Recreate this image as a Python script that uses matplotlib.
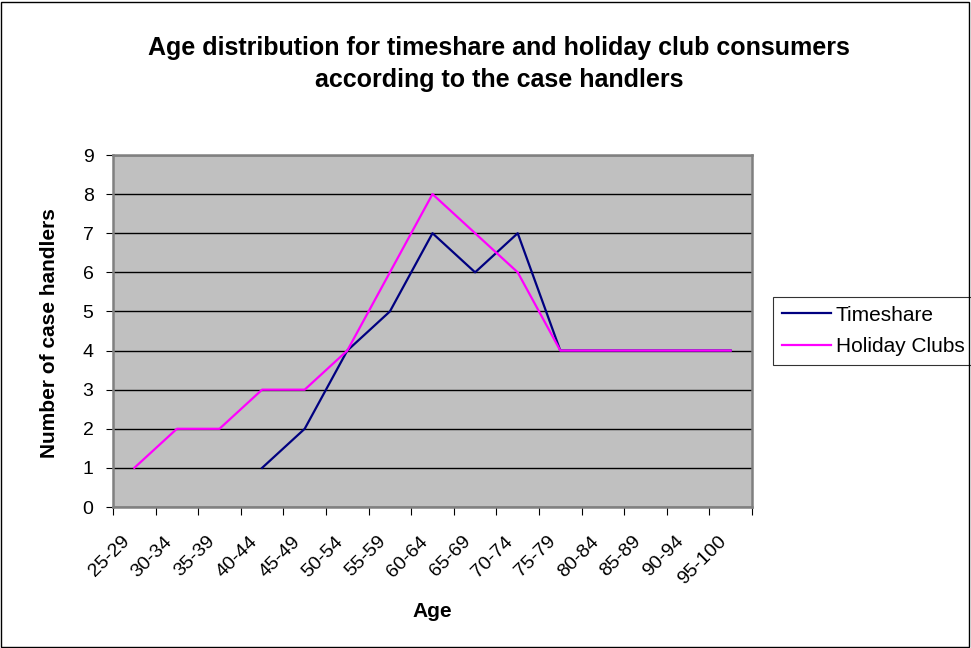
import numpy as np
import matplotlib.pyplot as plt
from matplotlib.patches import Rectangle
from matplotlib.transforms import ScaledTranslation

plt.rcParams['font.family'] = ['Liberation Sans', 'DejaVu Sans']

age_groups = ['25-29', '30-34', '35-39', '40-44', '45-49', '50-54', '55-59',
              '60-64', '65-69', '70-74', '75-79', '80-84', '85-89', '90-94', '95-100']
timeshare = [np.nan, np.nan, np.nan, 1, 2, 4, 5, 7, 6, 7, 4, 4, 4, 4, 4]
holiday_clubs = [1, 2, 2, 3, 3, 4, 6, 8, 7, 6, 4, 4, 4, 4, 4]

W, H = 971, 648
fig = plt.figure(figsize=(W / 100, H / 100), dpi=100)
fig.patches.append(Rectangle((1 / W, 1 / H), (W - 3) / W, (H - 3) / H,
                             transform=fig.transFigure, fill=False,
                             edgecolor='black', linewidth=1))

left, right, top, bottom = 113, 752, 155, 507
ax = fig.add_axes([left / W, 1 - bottom / H, (right - left) / W, (bottom - top) / H])
ax.set_facecolor('#c0c0c0')

x = np.arange(len(age_groups))
ax.plot(x, timeshare, color='#000080', linewidth=1.6, label='Timeshare')
ax.plot(x, holiday_clubs, color='#ff00ff', linewidth=1.6, label='Holiday Clubs')

ax.set_xlim(-0.5, len(age_groups) - 0.5)
ax.set_ylim(0, 9)
ax.set_yticks(range(10))
ax.yaxis.grid(True, color='black', linewidth=1)
ax.set_axisbelow(True)

# tick marks sit between categories, labels sit under category centres
ax.set_xticks(np.arange(len(age_groups) + 1) - 0.5)
ax.set_xticklabels([])
ax.set_xticks(x, minor=True)
ax.set_xticklabels(age_groups, minor=True, rotation=45, ha='right',
                   va='center', rotation_mode='anchor', fontsize=14)
ax.tick_params(axis='x', which='minor', length=0, pad=23)
ax.tick_params(axis='x', which='major', length=6, color='black', direction='out')
ax.tick_params(axis='y', length=5, color='black', labelsize=14, pad=9)
shift = ScaledTranslation(-7 / 100, 0, fig.dpi_scale_trans)
for lbl in ax.get_xticklabels(minor=True):
    lbl.set_transform(lbl.get_transform() + shift)

for side in ['top', 'right', 'bottom', 'left']:
    ax.spines[side].set_color('#808080')
    ax.spines[side].set_linewidth(1.8)

ax.set_xlabel('Age', fontsize=15, fontweight='bold')
ax.xaxis.set_label_coords(0.5, -(602 - bottom) / (bottom - top))
ax.set_ylabel('Number of case handlers', fontsize=15, fontweight='bold')
ax.yaxis.set_label_coords(-(left - 59) / (right - left), (bottom - 333) / (bottom - top))

fig.text(499 / W, 1 - 64 / H,
         'Age distribution for timeshare and holiday club consumers\naccording to the case handlers',
         ha='center', va='center', fontsize=18, fontweight='bold', linespacing=1.45)

leg = ax.legend(loc='upper left', bbox_to_anchor=(773 / W, 1 - 297 / H),
                bbox_transform=fig.transFigure, frameon=True, fancybox=False,
                edgecolor='black', fontsize=15, borderpad=0.42, labelspacing=0.6,
                handlelength=2.35, handletextpad=0.25, borderaxespad=0)
leg.get_frame().set_linewidth(0.8)

fig.savefig('out.png', dpi=100)
